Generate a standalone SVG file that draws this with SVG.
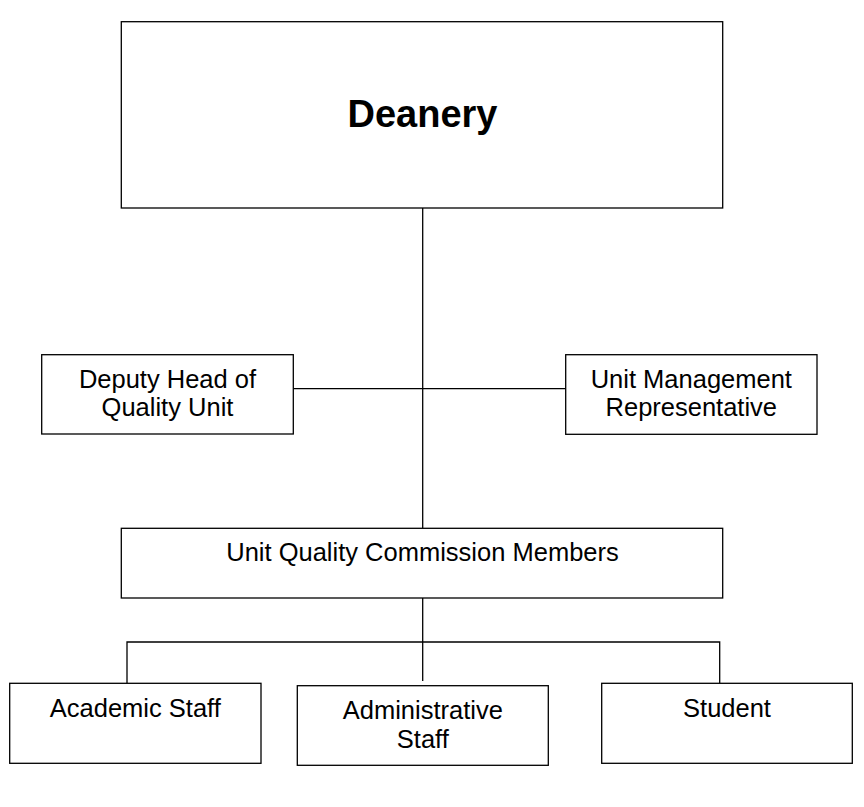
<svg xmlns="http://www.w3.org/2000/svg" width="864" height="807" viewBox="0 0 864 807">
<style>
.box{fill:#fff;stroke:#000;stroke-width:1.3}
.ln{fill:none;stroke:#000;stroke-width:1.3}
text{font-family:"Liberation Sans",Arial,sans-serif;font-size:25.5px;fill:#000;text-anchor:middle}
.big{font-size:38px;font-weight:bold}
</style>
<rect width="864" height="807" fill="#fff"/>
<g id="connectors">
<path class="ln" d="M422.7 208 V528"/>
<path class="ln" d="M293.3 388.7 H565.7"/>
<path class="ln" d="M422.7 598 V681"/>
<path class="ln" d="M127 683.3 V642 H719.7 V683.3"/>
</g>
<g id="deanery">
<rect class="box" x="121.3" y="21.7" width="601.4" height="186.3"/>
<text class="big" x="422.5" y="126.7">Deanery</text>
</g>
<g id="deputy">
<rect class="box" x="41.7" y="354.7" width="251.6" height="79.3"/>
<text x="167.5" y="387.7">Deputy Head of</text>
<text x="167.5" y="416.2">Quality Unit</text>
</g>
<g id="unit-management">
<rect class="box" x="565.7" y="354.7" width="251.3" height="79.6"/>
<text x="691.3" y="387.7">Unit Management</text>
<text x="691.3" y="416.2">Representative</text>
</g>
<g id="commission">
<rect class="box" x="121.3" y="528.3" width="601.4" height="69.7"/>
<text x="422.5" y="561">Unit Quality Commission Members</text>
</g>
<g id="academic">
<rect class="box" x="9.7" y="683.3" width="251.3" height="80"/>
<text x="135.3" y="716.7">Academic Staff</text>
</g>
<g id="administrative">
<rect class="box" x="297.3" y="685.7" width="251" height="79.6"/>
<text x="422.8" y="719.3">Administrative</text>
<text x="422.8" y="747.8">Staff</text>
</g>
<g id="student">
<rect class="box" x="601.7" y="683.3" width="250.6" height="80"/>
<text x="727" y="716.7">Student</text>
</g>
</svg>
